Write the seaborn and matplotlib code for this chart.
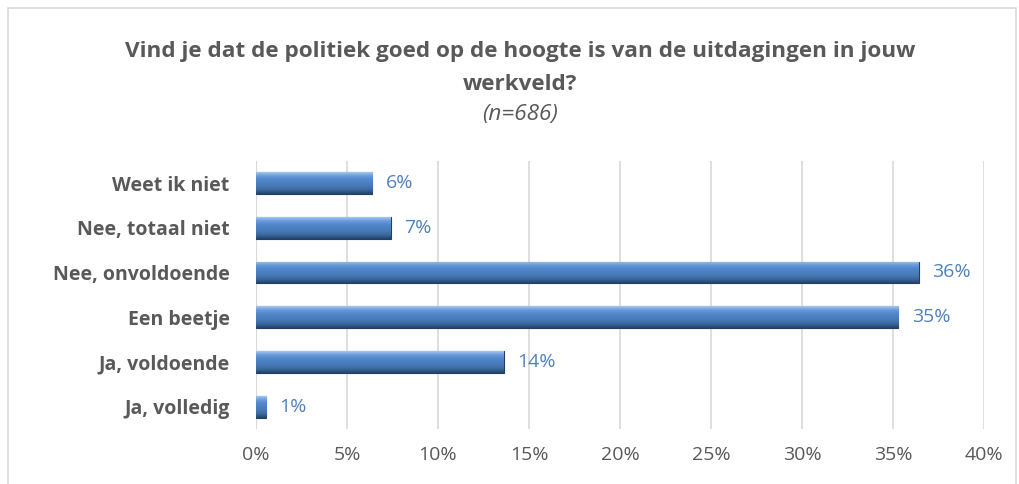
import numpy as np
import pandas as pd
import matplotlib
matplotlib.use("Agg")
import matplotlib.pyplot as plt
import seaborn as sns
from matplotlib.patches import Rectangle
from matplotlib.colors import LinearSegmentedColormap

categories = ["Weet ik niet", "Nee, totaal niet", "Nee, onvoldoende",
              "Een beetje", "Ja, voldoende", "Ja, volledig"]
values = [6.4, 7.4, 36.4, 35.3, 13.6, 0.55]
value_labels = ["6%", "7%", "36%", "35%", "14%", "1%"]
ticks = [0, 5, 10, 15, 20, 25, 30, 35, 40]

df = pd.DataFrame({"antwoord": categories, "pct": values})

sns.set_theme(style="white")
plt.rcParams["font.family"] = ["Open Sans", "DejaVu Sans"]

grey = "#595959"
blue = "#4F81BD"

fig = plt.figure(figsize=(10.19, 4.84), dpi=100)
ax = fig.add_axes([0.2512, 0.1136, 0.7145, 0.5544])

sns.barplot(data=df, x="pct", y="antwoord", color=blue, width=0.49,
            edgecolor="#1f3f66", linewidth=0.8, saturation=1, ax=ax, zorder=3)

# gradient fill to mimic the bevelled Excel bars
cmap = LinearSegmentedColormap.from_list(
    "bevel", ["#a3c7f2", "#6a9bdb", "#5289cc", "#4b80c0", "#4577b2", "#3b6699", "#22426b"])
grad = np.linspace(0, 1, 64).reshape(-1, 1)
for p in ax.patches:
    x0, y0 = p.get_x(), p.get_y()
    w, h = p.get_width(), p.get_height()
    im = ax.imshow(grad, cmap=cmap, aspect="auto",
                   extent=[x0, x0 + w, y0 + h, y0], zorder=3.5)
    im.set_clip_path(p)

for p, lab in zip(ax.patches, value_labels):
    ax.text(p.get_x() + p.get_width() + 0.75, p.get_y() + p.get_height() / 2,
            lab, color=blue, fontsize=14, va="center", ha="left")

ax.set_xlim(0, 40)
ax.set_ylim(5.5, -0.5)
ax.set_xticks(ticks)
ax.set_xticklabels([f"{t}%" for t in ticks], color=grey, fontsize=14)
ax.tick_params(axis="x", length=0, pad=12)
ax.tick_params(axis="y", length=0, pad=19)
for t in ax.get_yticklabels():
    t.set_fontweight("bold")
    t.set_color(grey)
    t.set_fontsize(14)
ax.set_xlabel("")
ax.set_ylabel("")
ax.grid(axis="x", color="#d9d9d9", linewidth=1.2, zorder=0)
for s in ax.spines.values():
    s.set_visible(False)
ax.axvline(0, color="#d9d9d9", linewidth=1.5, zorder=1)

fig.text(0.51, 0.894, "Vind je dat de politiek goed op de hoogte is van de uitdagingen in jouw",
         ha="center", va="center", fontsize=16.2, fontweight="bold", color=grey)
fig.text(0.51, 0.826, "werkveld?", ha="center", va="center",
         fontsize=16.2, fontweight="bold", color=grey)
fig.text(0.51, 0.764, "(n=686)", ha="center", va="center",
         fontsize=16.2, fontstyle="italic", color=grey)

fig.patches.append(Rectangle((8 / 1019, -0.05), 1008 / 1019, 1 - 8 / 484 + 0.05,
                             transform=fig.transFigure, fill=False,
                             edgecolor="#d9d9d9", linewidth=1.2))

fig.savefig("out.png", dpi=100)
